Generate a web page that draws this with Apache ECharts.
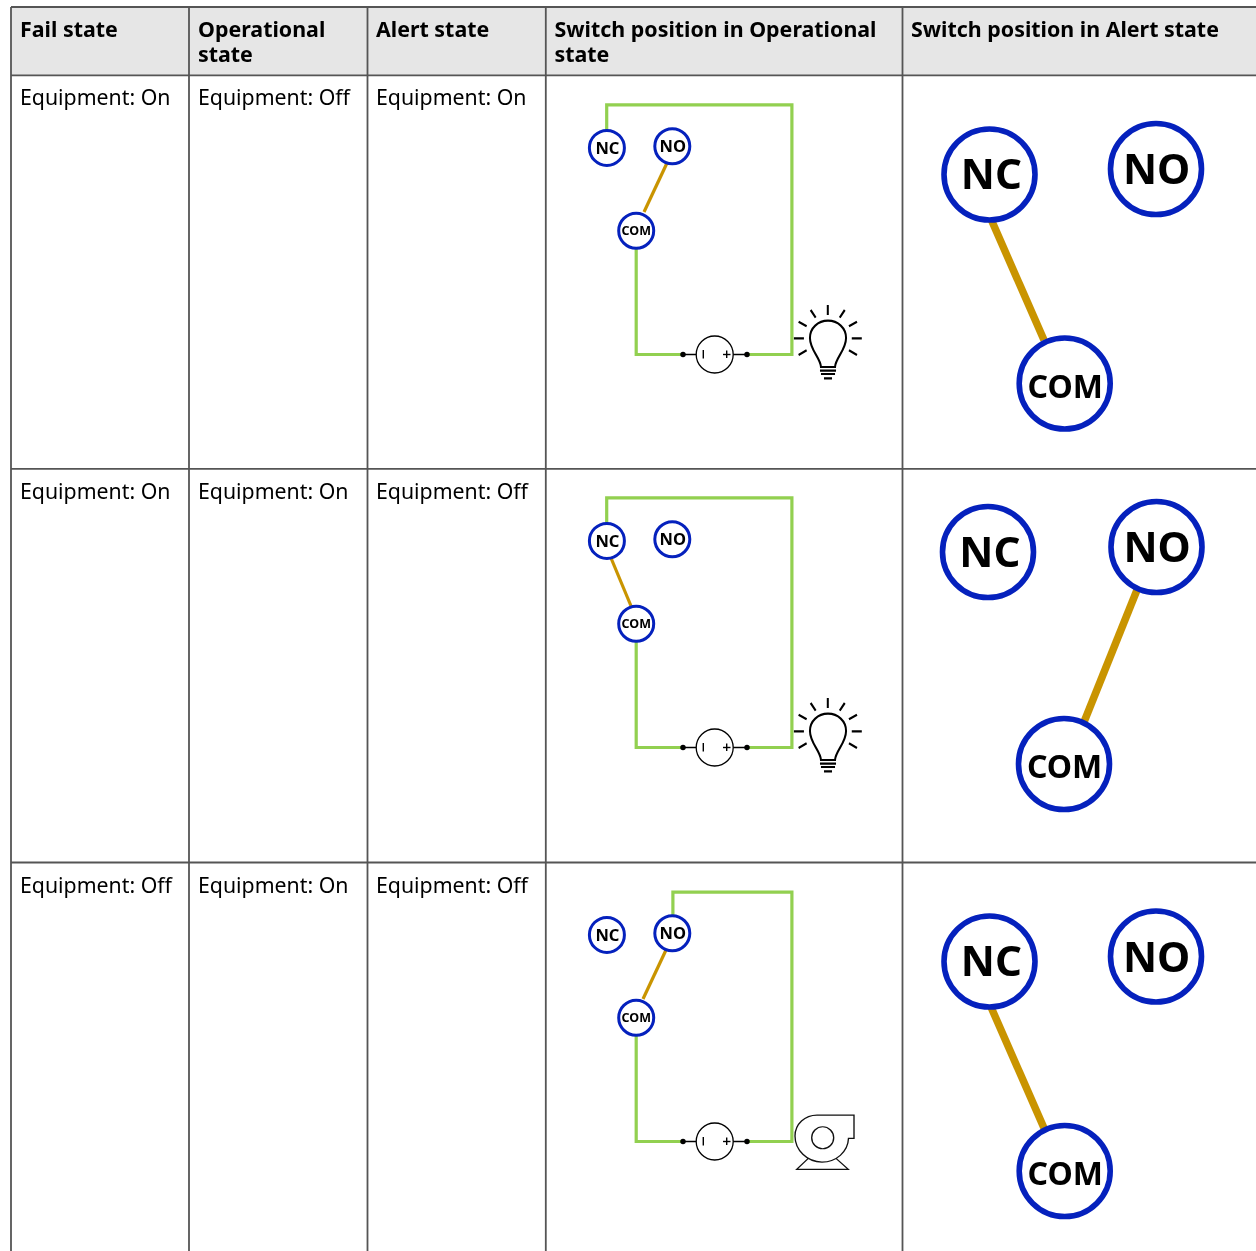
<!DOCTYPE html>
<html><head><meta charset="utf-8">
<style>html,body{margin:0;padding:0;background:#fff}#c{width:1256px;height:1251px}</style>
<script src="https://cdn.jsdelivr.net/npm/echarts@6/dist/echarts.min.js"></script>
</head><body><div id="c"></div>
<script>
// Table content
const headerCells = [
  [20, 31, 'Fail state'],
  [198, 31, 'Operational'], [198, 56, 'state'],
  [376, 31, 'Alert state'],
  [554.5, 31, 'Switch position in Operational'], [554.5, 56, 'state'],
  [911, 31, 'Switch position in Alert state']
];
const bodyCells = [
  [20, 99, 'Equipment: On'], [198, 99, 'Equipment: Off'], [376, 99, 'Equipment: On'],
  [20, 493, 'Equipment: On'], [198, 493, 'Equipment: On'], [376, 493, 'Equipment: Off'],
  [20, 887, 'Equipment: Off'], [198, 887, 'Equipment: On'], [376, 887, 'Equipment: Off']
];
const gridLines = [
  [[11, 7], [1256, 7]], [[11, 75.3], [1256, 75.3]], [[11, 468.8], [1256, 468.8]], [[11, 862.5], [1256, 862.5]],
  [[11, 7], [11, 1251]], [[189, 7], [189, 1251]], [[367.5, 7], [367.5, 1251]], [[545.8, 7], [545.8, 1251]], [[902.5, 7], [902.5, 1251]]
];
const headerBand = [[11, 7, 1256, 75.3]];

// Diagram wiring (green circuit runs)
const greenWires = [
  [[606.7, 130], [606.7, 104.9], [791.9, 104.9], [791.9, 354.5], [747, 354.5]],
  [[636.2, 247], [636.2, 354.5], [683, 354.5]],
  [[606.7, 523], [606.7, 497.9], [791.9, 497.9], [791.9, 747.5], [747, 747.5]],
  [[636.2, 640], [636.2, 747.5], [683, 747.5]],
  [[672.9, 915], [672.9, 892.2], [791.9, 892.2], [791.9, 1141.5], [747, 1141.5]],
  [[636.2, 1034], [636.2, 1141.5], [683, 1141.5]]
];
// Switch arms, small and large
const smallArms = [
  [[667, 163], [644, 212]],
  [[611, 558], [631, 606]],
  [[666, 950], [643, 999]]
];
const largeArms = [
  [[990.5, 218], [1044, 340]],
  [[1137, 590], [1084, 722]],
  [[990.5, 1006], [1044, 1128]]
];
// Terminals
const smallNodes = [
  [606.9, 147.9, 'NC'], [672.3, 146.2, 'NO'], [636.2, 230.8, 'COM'],
  [606.9, 540.9, 'NC'], [672.3, 539.2, 'NO'], [636.2, 623.8, 'COM'],
  [606.9, 934.9, 'NC'], [672.3, 933.2, 'NO'], [636.2, 1017.8, 'COM']
];
const largeNodes = [
  [989.5, 174.5, 'NC'], [1156, 169, 'NO'], [1064.7, 383.5, 'COM'],
  [988, 552, 'NC'], [1156.5, 547, 'NO'], [1064, 764, 'COM'],
  [989.5, 961.5, 'NC'], [1156, 956.5, 'NO'], [1064.7, 1171, 'COM']
];
// Source symbols
const sourceCentres = [[714.7, 354.5], [714.7, 747.5], [714.7, 1141.5]];
const sourceLeads = [
  [[683, 354.5], [697, 354.5]], [[733, 354.5], [747, 354.5]],
  [[683, 747.5], [697, 747.5]], [[733, 747.5], [747, 747.5]],
  [[683, 1141.5], [697, 1141.5]], [[733, 1141.5], [747, 1141.5]]
];
const sourceDots = [[683, 354.5], [747, 354.5], [683, 747.5], [747, 747.5], [683, 1141.5], [747, 1141.5]];
const sourceMinus = [[[703.3, 350], [703.3, 358.5]], [[703.3, 743], [703.3, 751.5]], [[703.3, 1137], [703.3, 1145.5]]];
const sourcePlus = [
  [[723, 354.5], [730.5, 354.5]], [[726.7, 350.5], [726.7, 358]],
  [[723, 747.5], [730.5, 747.5]], [[726.7, 743.5], [726.7, 751]],
  [[723, 1141.5], [730.5, 1141.5]], [[726.7, 1137.5], [726.7, 1145]]
];
// Equipment icons
const bulbs = [[827.85, 341.65], [827.85, 734.65]];
const pumps = [[824.5, 1142.2]];
const bulbPath = 'path://M794 338.3L804 338.3M851.7 338.3L861.7 338.3M827.8 305L827.8 315M810.7 310L815.7 317.7M844.7 310L839.7 317.7M798.7 321.7L806.7 326.3M856.9 321.7L848.9 326.3M798.7 355L806.7 350.3M856.9 355L848.9 350.3'
  + 'M821 367C820.5 358 810 350 810 338C810 328 818 320.7 828 320.7C838 320.7 846 328 846 338C846 350 835.5 358 835 367Z'
  + 'M820 370.6L836 370.6M821 374L835 374M824 378.3L832 378.3';
const pumpPath = 'path://M795 1136C795 1124 805 1115 817 1115L854 1115L854 1138.3L848.5 1138.3C848 1152 836 1162 822 1162C807 1162 795 1150 795 1136Z'
  + 'M808.3 1158.3L796.7 1169.3L848.3 1169.3L836 1158.3'
  + 'M833.7 1137.7A11 11 0 1 1 811.7 1137.7A11 11 0 1 1 833.7 1137.7Z';

const FONT = '"Noto Sans"';
const GREY = '#555555', GREEN = '#92d050', BROWN = '#c99400', BLUE = '#0521bd';

function polyline(points, color, width, z) {
  return { type: 'line', data: points, showSymbol: false, symbol: 'none', silent: true, z,
    lineStyle: { color, width, cap: 'butt', join: 'miter' } };
}
function textSeries(cells, weight, size) {
  return { type: 'custom', data: cells, silent: true, z: 20,
    encode: { x: 0, y: 1 },
    renderItem(params, api) {
      const p = api.coord([api.value(0), api.value(1)]);
      return { type: 'text', style: { x: p[0], y: p[1], text: cells[params.dataIndex][2],
        font: weight + ' ' + size + 'px ' + FONT, fill: '#000', textAlign: 'left', textVerticalAlign: 'middle' } };
    } };
}
function nodeSeries(nodes, size, border, fontFor, offsetFor) {
  return { type: 'scatter', symbol: 'circle', symbolSize: size, silent: true, z: 15,
    itemStyle: { color: '#fff', borderColor: BLUE, borderWidth: border, opacity: 1 },
    label: { show: true, position: 'inside', formatter: p => p.name, color: '#000', fontFamily: FONT, fontWeight: 700 },
    data: nodes.map(n => ({ value: [n[0], n[1]], name: n[2],
      label: { fontSize: fontFor(n[2]), offset: offsetFor(n[2]) } })) };
}
const series = [
  { type: 'custom', data: headerBand, silent: true, z: 1, encode: { x: [0, 2], y: [1, 3] },
    renderItem(params, api) {
      const a = api.coord([api.value(0), api.value(1)]), b = api.coord([api.value(2), api.value(3)]);
      return { type: 'rect', shape: { x: a[0], y: a[1], width: b[0] - a[0], height: b[1] - a[1] }, style: { fill: '#e6e6e6' } };
    } },
  ...gridLines.map(l => polyline(l, GREY, 1.8, 2)),
  ...greenWires.map(l => polyline(l, GREEN, 3.2, 5)),
  ...smallArms.map(l => polyline(l, BROWN, 3.2, 6)),
  ...largeArms.map(l => polyline(l, BROWN, 7.5, 6)),
  ...sourceLeads.map(l => polyline(l, '#000', 1.5, 7)),
  { type: 'scatter', data: sourceDots, symbol: 'circle', symbolSize: 5.5, silent: true, z: 8, itemStyle: { color: '#000', opacity: 1 } },
  { type: 'scatter', data: sourceCentres, symbol: 'circle', symbolSize: 37, silent: true, z: 8,
    itemStyle: { color: '#fff', borderColor: '#000', borderWidth: 1.3, opacity: 1 } },
  ...sourceMinus.map(l => polyline(l, '#000', 1.4, 9)),
  ...sourcePlus.map(l => polyline(l, '#000', 1.4, 9)),
  nodeSeries(smallNodes, 35, 3, t => t === 'COM' ? 12.5 : 16.5, t => [t === 'COM' ? 0 : 0.5, 1]),
  nodeSeries(largeNodes, 91, 5.6, t => t === 'COM' ? 32 : 42, t => [t === 'NC' ? 1.8 : 0.6, t === 'NC' ? 2.6 : (t === 'COM' ? 5.2 : 3.4)]),
  { type: 'scatter', data: bulbs, symbol: bulbPath, symbolSize: [67.9, 73.3], silent: true, z: 9,
    itemStyle: { color: 'none', borderColor: '#000', borderWidth: 2.1, opacity: 1 } },
  { type: 'scatter', data: pumps, symbol: pumpPath, symbolSize: [59, 54.3], silent: true, z: 9,
    itemStyle: { color: 'none', borderColor: '#111', borderWidth: 1.3, opacity: 1 } },
  textSeries(headerCells, 'bold', 21.4),
  textSeries(bodyCells, 'normal', 21.3)
];
const chart = echarts.init(document.getElementById('c'), null, { renderer: 'canvas' });
chart.setOption({
  animation: false,
  backgroundColor: '#fff',
  grid: { left: 0, right: 0, top: 0, bottom: 0 },
  xAxis: { type: 'value', min: 0, max: 1256, show: false },
  yAxis: { type: 'value', min: 0, max: 1251, inverse: true, show: false },
  series
});
</script></body></html>
